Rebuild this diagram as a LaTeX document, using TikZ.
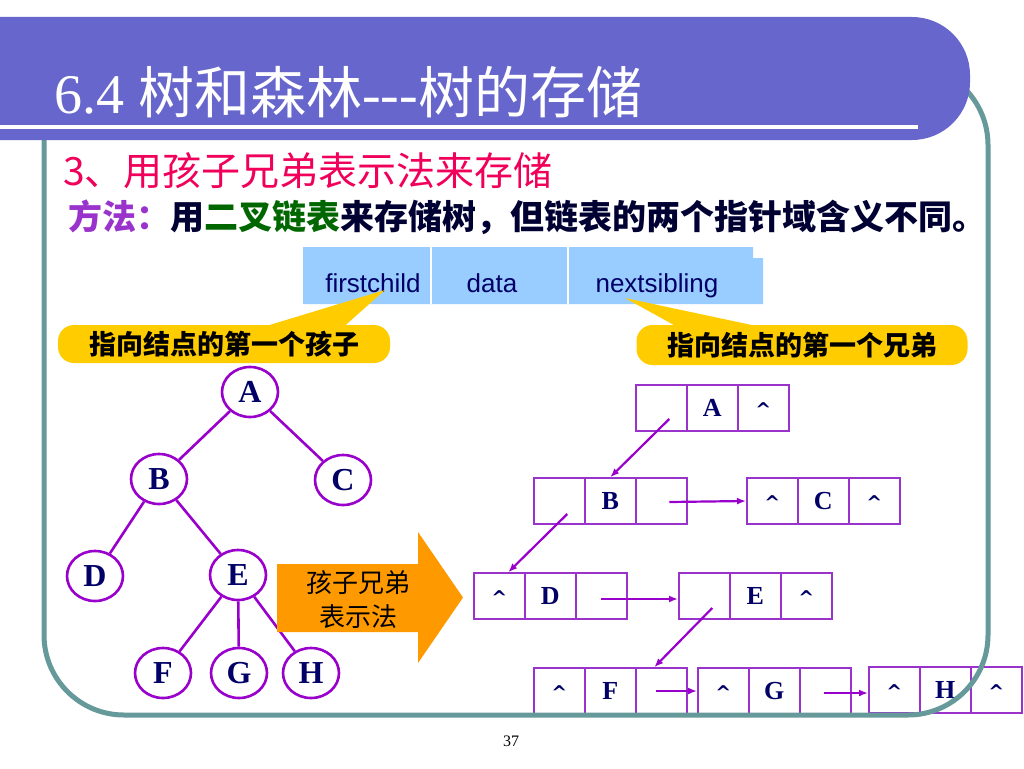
\documentclass[tikz,border=0pt]{standalone}
\usepackage{fontspec}
\setmainfont{Liberation Serif}
\newfontfamily\cjk{Noto Sans CJK SC}
\newfontfamily\arialf{Liberation Sans}
\newfontfamily\dejab{DejaVu Sans}
\usetikzlibrary{arrows.meta,shapes.geometric,calc}
\definecolor{titlebar}{HTML}{6666CC}
\definecolor{framec}{HTML}{669999}
\definecolor{subred}{HTML}{F0005A}
\definecolor{methodc}{HTML}{9933CC}
\definecolor{greenc}{HTML}{006600}
\definecolor{darktext}{HTML}{000033}
\definecolor{hdrc}{HTML}{99CCFF}
\definecolor{navy}{HTML}{000066}
\definecolor{treec}{HTML}{9900CC}
\definecolor{listc}{HTML}{9933CC}
\definecolor{arrc}{HTML}{9900CC}
\definecolor{calloutc}{HTML}{FFCC00}
\definecolor{orangec}{HTML}{FF9900}
\newcommand\nilp{{\dejab\bfseries\fontsize{19}{19}\selectfont\raisebox{-8pt}[0pt][0pt]{\textasciicircum}}}
\newcommand\lnode[6]{%
  \node[cell, anchor=west] (#11) at (#2,#3) {#4};
  \node[cell, anchor=west] (#12) at (#2+51,#3) {#5};
  \node[cell, anchor=west] (#13) at (#2+102,#3) {#6};
}
\begin{document}
\begin{tikzpicture}[x=1pt,y=-1pt,
  tnode/.style={ellipse, draw=treec, line width=2.6pt, fill=white, minimum width=56, minimum height=50, inner sep=0pt, font=\fontsize{32}{34}\selectfont\bfseries, text=navy},
  tedge/.style={draw=treec, line width=2.6pt},
  cell/.style={rectangle, draw=listc, line width=1.5pt, fill=white, minimum width=51, minimum height=46, inner sep=0pt, font=\fontsize{26}{28}\selectfont\bfseries, text=navy},
  larrow/.style={draw=arrc, line width=2.2pt, -{Latex[length=9pt,width=7pt]}},
  hdrtext/.style={anchor=base, inner sep=0pt, text=navy, font=\arialf\fontsize{26}{28}\selectfont},
  callout/.style={fill=calloutc, rounded corners=16pt, inner sep=0pt, text=black, font=\cjk\bfseries\fontsize{27}{30}\selectfont},
]
\useasboundingbox (0,0) rectangle (1024,768);
\fill[white] (0,0) rectangle (1024,768);

% header field box
\fill[hdrc] (303,247) -- (753,247) -- (753,258) -- (763,258) -- (763,304) -- (303,304) -- cycle;
\draw[white, line width=1.5pt] (431,247) -- (431,304);
\draw[white, line width=1.5pt] (568,247) -- (568,304);
\node[hdrtext] (fc) at (373,292) {firstchild};
\node[hdrtext] (dt) at (492,292) {data};
\node[hdrtext] (ns) at (657,292) {nextsibling};

% callouts
\coordinate (tip1) at (385,290);
\coordinate (tip2) at (625,298);
\node[callout, minimum width=332, minimum height=38] (cb1) at (224,344) {指向结点的第一个孩子};
\fill[calloutc] (253,330) -- (tip1) -- (340,330) -- cycle;
\node[callout, minimum width=331, minimum height=40] (cb2) at (802,345) {指向结点的第一个兄弟};
\fill[calloutc] (683,330) -- (tip2) -- (775,330) -- cycle;

% tree
\node[tnode] (A) at (250,392) {A};
\node[tnode] (B) at (159,479) {B};
\node[tnode] (C) at (343,480) {C};
\node[tnode] (D) at (95,576) {D};
\node[tnode] (E) at (238,575) {E};
\node[tnode] (F) at (163,673) {F};
\node[tnode] (G) at (239,673) {G};
\node[tnode] (H) at (311,673) {H};
\draw[tedge] (A) -- (B);
\draw[tedge] (A) -- (C);
\draw[tedge] (B) -- (D);
\draw[tedge] (B) -- (E);
\draw[tedge] (E) -- (F);
\draw[tedge] (E) -- (G);
\draw[tedge] (E) -- (H);

% big arrow
\fill[orangec] (277,564) -- (418,564) -- (418,532) -- (463,597.5) -- (418,663) -- (418,632) -- (277,632) -- cycle;
\node[align=center, inner sep=0pt, font=\cjk\fontsize{26}{34}\selectfont, text=black] (arrtxt) at (358,600) {孩子兄弟\\表示法};

% linked list
\lnode{LA}{635}{408}{}{A}{\nilp}
\lnode{LB}{533}{501}{}{B}{}
\lnode{LC}{746}{501}{\nilp}{C}{\nilp}
\lnode{LD}{473}{596}{\nilp}{D}{}
\lnode{LE}{678}{596}{}{E}{\nilp}
\lnode{LF}{533}{691}{\nilp}{F}{}
\lnode{LG}{697}{691}{\nilp}{G}{}
\lnode{LH}{868}{690}{\nilp}{H}{\nilp}
\draw[larrow] ($(LA1.center)+(8,11)$) -- (LB2.north);
\draw[larrow] ($(LB1.center)+(8,13)$) -- ($(LD1.north)+(9,0)$);
\draw[larrow] ($(LB3.center)+(8,1)$) -- (LC1.west);
\draw[larrow] ($(LD3.center)+(0,3)$) -- ($(LE1.west)+(0,3)$);
\draw[larrow] ($(LE1.center)+(8,12)$) -- ($(LF3.north)+(-7,0)$);
\draw[larrow] ($(LF3.center)+(-5,0)$) -- (LG1.west);
\draw[larrow] ($(LG3.center)+(-1,2)$) -- ($(LH1.west)+(0,3)$);

% frame
\draw[framec, line width=5pt, rounded corners=80pt] (44,65) rectangle (988,715);

% title bar
\fill[titlebar] (0,17) [rounded corners=58pt] -- (970,17) -- (970,140) [sharp corners] -- (0,140) -- cycle;
\fill[white] (0,125) rectangle (918,129);
\node[anchor=base west, inner sep=0pt, text=white, font=\fontsize{56}{60}\selectfont] (title) at (54,113) {6.4 {\cjk 树和森林}-{}-{}-{\cjk 树的存储}};

% subtitle & method
\node[anchor=base west, inner sep=0pt, text=subred, font=\cjk\fontsize{39}{44}\selectfont] (sub) at (63,185) {3、用孩子兄弟表示法来存储};
\node[anchor=base west, inner sep=0pt, text=darktext, font=\cjk\bfseries\fontsize{34}{40}\selectfont] (method) at (68,229) {{\color{methodc}方法：}用{\color{greenc}二叉链表}来存储树，但链表的两个指针域含义不同。};

% page number
\node[inner sep=0pt, font=\fontsize{16}{18}\selectfont] (pg) at (511,741) {37};
\end{tikzpicture}
\end{document}
